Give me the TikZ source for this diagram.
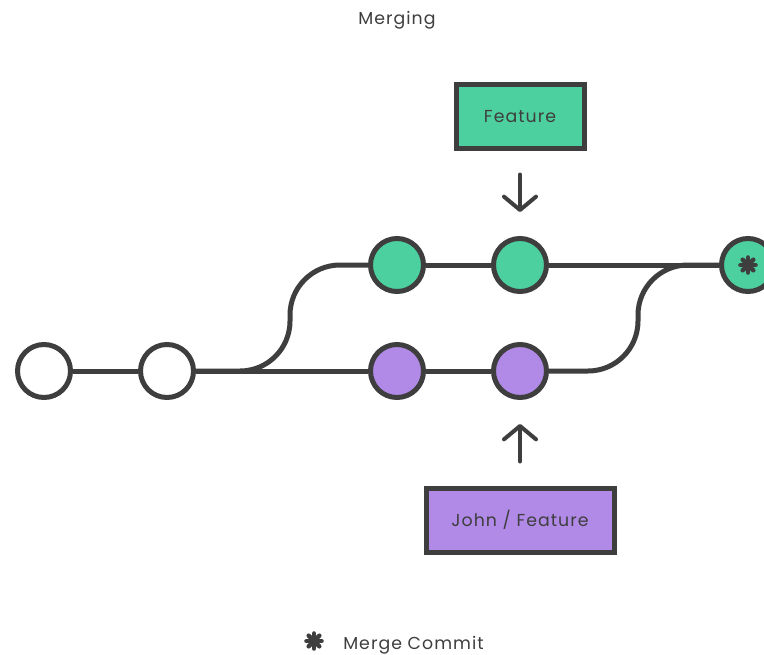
\documentclass[tikz,border=0pt]{standalone}
\usepackage{fontspec}
\setmainfont{Poppins}[LetterSpace=6]
\usetikzlibrary{arrows.meta}
\definecolor{lineGray}{HTML}{3E3E3E}
\definecolor{featGreen}{HTML}{4DD0A0}
\definecolor{johnPurple}{HTML}{B08AE6}
\tikzset{
  commit/.style={circle, draw=lineGray, line width=3.75pt, minimum size=39.75pt, inner sep=0pt, fill=white},
  branchbox/.style={draw=lineGray, line width=3.75pt, minimum height=48pt, text height=9pt, text depth=0pt, text=lineGray, font=\fontsize{13}{15}\selectfont},
  caption/.style={text=lineGray, anchor=base, inner sep=0pt, font=\fontsize{13}{15}\selectfont},
  edge/.style={draw=lineGray, line width=3.75pt},
  pointer/.style={draw=lineGray, line width=3pt, line cap=round, -{Straight Barb[length=10pt, width=24pt, round]}, shorten <=18pt, shorten >=18pt},
  mergemark/.pic={\foreach \a in {0,45,90,135} \draw[lineGray, line width=3.4pt, line cap=round] (\a:7.5) -- (\a+180:7.5);}
}
\begin{document}
\begin{tikzpicture}[x=0.75pt, y=-0.75pt]
  \useasboundingbox[fill=white] (0,0) rectangle (764,654);
  \node[caption] (title) at (397,24) {Merging};
  % commits
  \node[commit] (c1) at (44,371) {};
  \node[commit] (c2) at (167,371) {};
  \node[commit, fill=featGreen] (g1) at (397,265) {};
  \node[commit, fill=featGreen] (g2) at (520,265) {};
  \node[commit, fill=johnPurple] (p1) at (397,371) {};
  \node[commit, fill=johnPurple] (p2) at (520,371) {};
  \node[commit, fill=featGreen] (m) at (748,265) {};
  \pic at (m) {mergemark};
  % history
  \draw[edge] (c1) -- (c2);
  \draw[edge] (c2) -- (p1);
  \draw[edge] (p1) -- (p2);
  \draw[edge] (g1) -- (g2);
  \draw[edge] (g2) -- (m);
  \draw[edge, rounded corners=37.5pt] (c2.east) -- ++(94,0) |- (g1.west);
  \draw[edge, rounded corners=37.5pt] (p2.east) -- ++(89,0) |- (m.west);
  % branch labels
  \node[branchbox, fill=featGreen, minimum width=96pt] (feat) at (520,116) {Feature};
  \node[branchbox, fill=johnPurple, minimum width=141pt] (john) at (520,520) {John / Feature};
  \draw[pointer] (feat) -- (g2);
  \draw[pointer] (john) -- (p2);
  % legend
  \pic at (314,641) {mergemark};
  \node[caption, anchor=base west] (legend) at (343,649) {Merge Commit};
\end{tikzpicture}
\end{document}
